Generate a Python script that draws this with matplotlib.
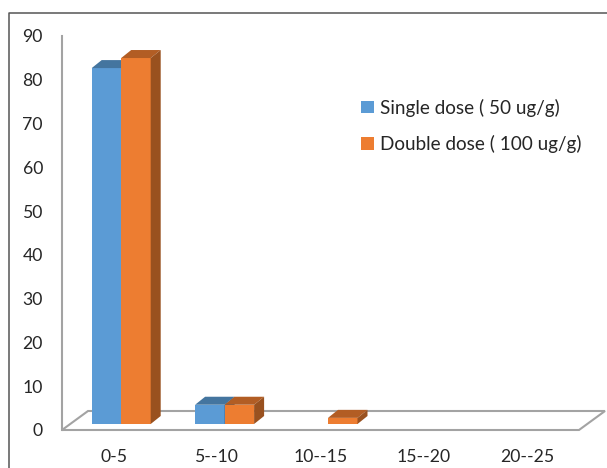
# -*- coding: utf-8 -*-
import matplotlib
matplotlib.use('Agg')
import matplotlib.pyplot as plt
from matplotlib.lines import Line2D
from matplotlib.patches import Polygon, Patch

plt.rcParams['font.family'] = ['Lato', 'DejaVu Sans']

CATEGORIES = ['0-5', '5--10', '10--15', '15--20', '20--25']
SINGLE_DOSE = [81.3, 4.4, 0, 0, 0]
DOUBLE_DOSE = [83.6, 4.4, 1.4, 0, 0]
YTICKS = [0, 10, 20, 30, 40, 50, 60, 70, 80, 90]

W, H = 607, 468
BLUE = ('#5B9BD5', '#44759F', '#38618A')
ORANGE = ('#ED7D31', '#B25D24', '#99511F')
GREY = '#A3A3A3'
TEXT = '#262626'
FRAME = '#555555'

# pixels per data unit, used to express the fake 3d offsets
PX_X = 517 / 5
PX_Y = 394 / 90
BAR_W = 29.5 / PX_X
SHIFT = 7.5 / PX_X
DX, DY = 10 / PX_X, 8 / PX_Y
BASE = 6 / PX_Y
FLOOR_DX, FLOOR_DY = 26 / PX_X, 19 / PX_Y


def bar3d(ax, left, val, colors):
    '''front, top and side of one bar'''
    if val <= 0:
        return
    right = left + BAR_W
    base, top = BASE, BASE + val
    ax.add_patch(Polygon([(left, base), (right, base), (right, top), (left, top)],
                         fc=colors[0], ec='none', zorder=3))
    ax.add_patch(Polygon([(left, top), (right, top), (right + DX, top + DY), (left + DX, top + DY)],
                         fc=colors[1], ec='none', zorder=3))
    ax.add_patch(Polygon([(right, base), (right + DX, base + DY), (right + DX, top + DY), (right, top)],
                         fc=colors[2], ec='none', zorder=3))


fig = plt.figure(figsize=(W / 100, H / 100), dpi=100)
ax = fig.add_axes([62 / W, 1 - 430 / H, 517 / W, 394 / H])
ax.set_xlim(0, len(CATEGORIES))
ax.set_ylim(0, 90)

# outer frame of the screenshot, only top and left are visible
fig.add_artist(Line2D([9 / W, 9 / W, 1], [0, 1 - 12.5 / H, 1 - 12.5 / H], color=FRAME, lw=1.1))

# floor of the 3d box
ax.add_patch(Polygon([(0, 0), (5, 0), (5 + FLOOR_DX, FLOOR_DY), (FLOOR_DX, FLOOR_DY)],
                     closed=True, fc='white', ec=GREY, lw=1.5, zorder=1, clip_on=False))

for i in range(len(CATEGORIES)):
    c = i + 0.5 + SHIFT
    bar3d(ax, c - BAR_W, SINGLE_DOSE[i], BLUE)
for i in range(len(CATEGORIES)):
    c = i + 0.5 + SHIFT
    bar3d(ax, c, DOUBLE_DOSE[i], ORANGE)

for s in ['top', 'right', 'bottom']:
    ax.spines[s].set_visible(False)
ax.spines['left'].set_color(GREY)
ax.spines['left'].set_linewidth(1.5)
ax.patch.set_alpha(0)

ax.set_xticks([i + 0.5 for i in range(len(CATEGORIES))])
ax.set_xticklabels(CATEGORIES)
ax.set_yticks(YTICKS)
ax.tick_params(axis='both', length=0, labelsize=12.7, labelcolor=TEXT)
ax.tick_params(axis='x', pad=14)
ax.tick_params(axis='y', pad=13.7)

handles = [Patch(fc=BLUE[0], label='Single dose ( 50 ug/g)'),
           Patch(fc=ORANGE[0], label='Double dose ( 100 ug/g)')]
ax.legend(handles=handles, loc='upper left', bbox_to_anchor=(0.579, 0.841), frameon=False,
          fontsize=13.6, handlelength=0.65, handleheight=0.65, handletextpad=0.32,
          labelspacing=0.98, borderpad=0, borderaxespad=0, labelcolor=TEXT)

fig.savefig('out.png', dpi=100)
